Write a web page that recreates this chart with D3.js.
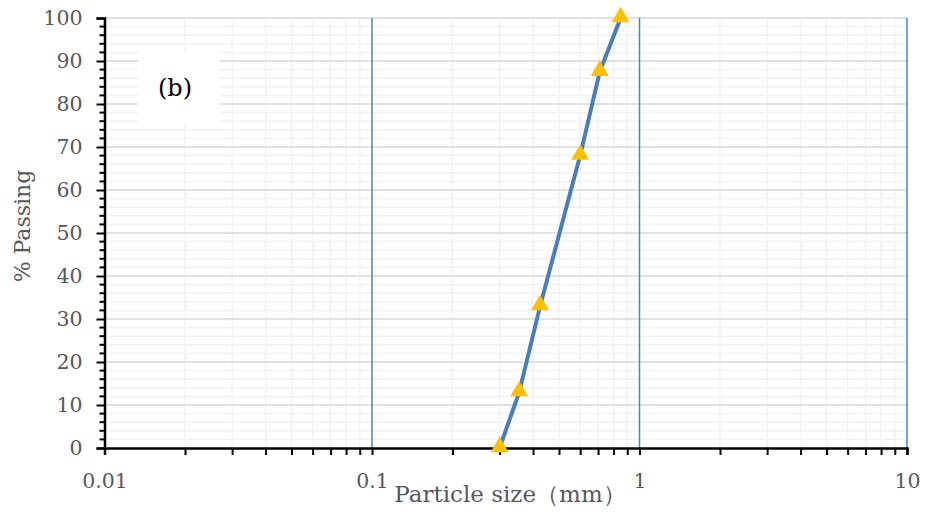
<!DOCTYPE html>
<html>
<head>
<meta charset="utf-8">
<script src="https://d3js.org/d3.v7.min.js"></script>
<style>
  body { margin: 0; background: #fff; }
  svg text { font-family: "DejaVu Serif", "Liberation Serif", serif; }
</style>
</head>
<body>
<div id="chart"></div>
<script>
// sieve sizes (mm) and % passing
let sizes = [0.3, 0.355, 0.425, 0.6, 0.71, 0.85];
let passing = [0, 13, 33, 68, 87.5, 100];
let xTicks = [0.01, 0.1, 1, 10];
let yTicks = [0, 10, 20, 30, 40, 50, 60, 70, 80, 90, 100];
let xTitle = "Particle size（mm）";
let yTitle = "% Passing";
let panelLabel = "(b)";

let W = 925, H = 513;
let margin = { top: 18, right: 18, bottom: 65, left: 104.5 };
let serif = "DejaVu Serif, Liberation Serif, serif";

let svg = d3.select("#chart").append("svg")
  .attr("width", W).attr("height", H)
  .attr("font-family", serif);

let x = d3.scaleLog().domain([0.01, 10]).range([margin.left, W - margin.right]);
let y = d3.scaleLinear().domain([0, 100]).range([H - margin.bottom, margin.top]);

// minor values
let minorX = [];
[0.01, 0.1, 1].forEach(function (d) {
  for (let k = 2; k <= 9; k++) minorX.push(d * k);
});
let minorY = d3.range(0, 101, 2).filter(function (d) { return d % 10 != 0; });

let grid = svg.append("g");
// minor horizontal grid
grid.selectAll(".hminor").data(minorY).enter().append("line")
  .attr("x1", x(0.01)).attr("x2", x(10))
  .attr("y1", function (d) { return y(d); }).attr("y2", function (d) { return y(d); })
  .attr("stroke", "#f2f2f2").attr("stroke-width", 1.5);
// minor vertical grid
grid.selectAll(".vminor").data(minorX).enter().append("line")
  .attr("x1", function (d) { return x(d); }).attr("x2", function (d) { return x(d); })
  .attr("y1", y(0)).attr("y2", y(100))
  .attr("stroke", "#f2f2f2").attr("stroke-width", 1.5);
// major horizontal grid
grid.selectAll(".hmajor").data(yTicks.slice(1)).enter().append("line")
  .attr("x1", x(0.01)).attr("x2", x(10))
  .attr("y1", function (d) { return y(d); }).attr("y2", function (d) { return y(d); })
  .attr("stroke", "#d9d9d9").attr("stroke-width", 1.5);
// major vertical grid (blue)
grid.selectAll(".vmajor").data(xTicks.slice(1)).enter().append("line")
  .attr("x1", function (d) { return x(d); }).attr("x2", function (d) { return x(d); })
  .attr("y1", y(0)).attr("y2", y(100))
  .attr("stroke", "#4f81bd").attr("stroke-width", 1.5);

// panel label box
svg.append("rect")
  .attr("x", 138).attr("y", 52).attr("width", 82).attr("height", 71)
  .attr("fill", "#fff");
svg.append("text")
  .attr("x", 175).attr("y", 96)
  .attr("text-anchor", "middle")
  .attr("font-size", 24).attr("fill", "#000")
  .text(panelLabel);

// axes
let xAxis = d3.axisBottom(x)
  .tickValues(xTicks.concat(minorX))
  .tickSize(7)
  .tickFormat(function (d) { return xTicks.indexOf(d) >= 0 ? d3.format("~g")(d) : ""; });
let gx = svg.append("g")
  .attr("transform", "translate(0," + y(0) + ")")
  .call(xAxis)
  .attr("font-family", serif);
gx.select(".domain").attr("stroke", "#000").attr("stroke-width", 2.5);
gx.selectAll(".tick line").attr("stroke", "#000").attr("stroke-width", 2);
gx.selectAll(".tick text")
  .attr("fill", "#595959").attr("font-size", 20.5)
  .attr("dy", "1.45em");

let yAxis = d3.axisLeft(y).tickValues(yTicks).tickSize(8).tickPadding(14);
let gy = svg.append("g")
  .attr("transform", "translate(" + x(0.01) + ",0)")
  .call(yAxis)
  .attr("font-family", serif);
gy.select(".domain").attr("stroke", "#000").attr("stroke-width", 2.5);
gy.selectAll(".tick line").attr("stroke", "#000").attr("stroke-width", 2);
gy.selectAll(".tick text")
  .attr("fill", "#595959").attr("font-size", 20.5);

// minor y ticks
gy.selectAll(".minor").data(minorY).enter().append("line")
  .attr("x1", -5).attr("x2", 0)
  .attr("y1", function (d) { return y(d); }).attr("y2", function (d) { return y(d); })
  .attr("stroke", "#000").attr("stroke-width", 2);

// data line
let pts = sizes.map(function (s, i) { return [s, passing[i]]; });
svg.append("path")
  .datum(pts)
  .attr("fill", "none")
  .attr("stroke", "#4a7ebb")
  .attr("stroke-width", 4)
  .attr("d", d3.line().x(function (d) { return x(d[0]); }).y(function (d) { return y(d[1]); }));

svg.selectAll(".marker").data(pts).enter().append("path")
  .attr("transform", function (d) { return "translate(" + x(d[0]) + "," + (y(d[1]) - 1) + ")"; })
  .attr("d", d3.symbol().type(d3.symbolTriangle).size(140))
  .attr("fill", "#ffc000");

// titles
svg.append("text")
  .attr("x", 510).attr("y", 502)
  .attr("text-anchor", "middle")
  .attr("font-size", 23).attr("fill", "#595959")
  .text(xTitle);
svg.append("text")
  .attr("transform", "translate(30," + 226 + ") rotate(-90)")
  .attr("text-anchor", "middle")
  .attr("font-size", 22).attr("fill", "#595959")
  .text(yTitle);
</script>
</body>
</html>
